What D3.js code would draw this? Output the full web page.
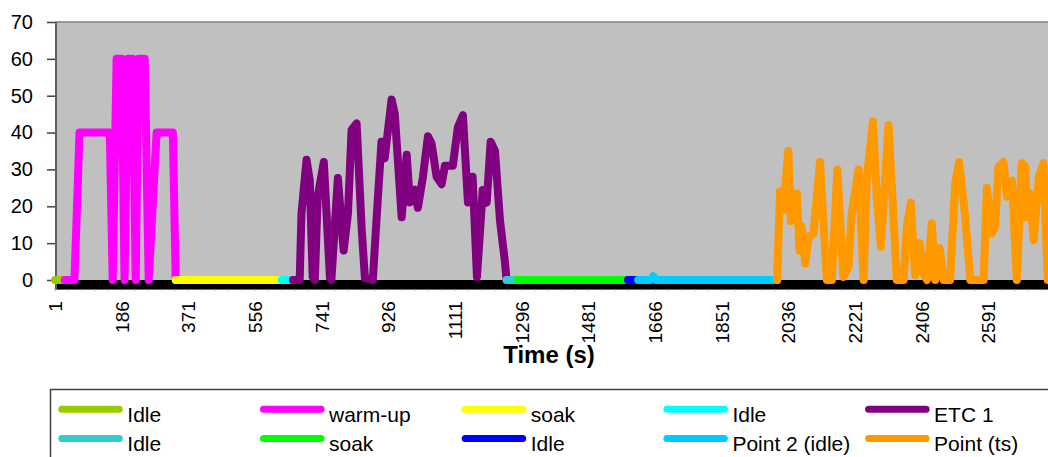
<!DOCTYPE html>
<html>
<head>
<meta charset="utf-8">
<script src="https://cdn.jsdelivr.net/npm/d3@7/dist/d3.min.js"></script>
<style>
  body { margin: 0; background: #fff; }
  svg { display: block; font-family: "Liberation Sans", Arial, sans-serif; }
</style>
</head>
<body>
<script>
// Speed trace, one [time (s), speed] pair per vertex
const idle1 = [[1, 0], [28, 0]];
const warmUp = [[28, 0], [55, 0], [69, 40], [153, 40], [161, 0], [172, 60], [186, 60], [194, 0],
    [203, 60], [216, 60], [225, 0], [233, 60], [250, 60], [261, 0], [283, 40], [328, 40], [336, 0]];
const soak1 = [[336, 0], [630, 0]];
const idle2 = [[630, 0], [661, 0]];
const etc1 = [[661, 0], [680, 0], [685, 18], [699, 32.6], [708, 27], [716, 0.8], [722, 0], [730, 22.6],
    [747, 32], [764, 0.5], [768, 0], [786, 27.7], [802, 8], [814, 18], [824, 40.7], [838, 42.5],
    [852, 14], [861, 0.5], [883, 0], [893, 16], [907, 37.5], [916, 33], [935, 49], [944, 45],
    [963, 17], [977, 34], [986, 21], [1000, 24.5], [1008, 19.6], [1022, 28], [1036, 39], [1046, 37],
    [1060, 28], [1074, 26], [1083, 31], [1105, 31], [1119, 41.5], [1133, 44.7], [1147, 21],
    [1160, 28], [1172, 0.8], [1188, 24.4], [1199, 21], [1210, 37.5], [1222, 35], [1236, 16],
    [1250, 4.6], [1254, 0]];
const idle3 = [[1254, 0], [1286, 0]];
const soak2 = [[1286, 0], [1591, 0]];
const idle4 = [[1591, 0], [1619, 0]];
const point2 = [[1619, 0], [1655, 0], [1661, 1], [1667, 0], [2003, 0]];
const pointTs = [[2005, 0], [2013, 24], [2022, 19], [2036, 35], [2043, 16], [2050, 23.5], [2060, 23.5],
    [2067, 8], [2073, 14.5], [2083, 4.5], [2092, 11.7], [2106, 12.6], [2124, 32], [2143, 0],
    [2157, 0], [2172, 30], [2189, 0.8], [2203, 3.6], [2212, 18], [2231, 30], [2245, 0], [2254, 28],
    [2271, 43], [2282, 21.7], [2293, 9], [2314, 42], [2328, 17], [2337, 0], [2356, 0], [2365, 14.5],
    [2376, 21], [2388, 1.3], [2400, 10], [2411, 1.8], [2421, 0], [2434, 15.4], [2444, 0], [2456, 8.6],
    [2467, 0], [2485, 0], [2499, 26], [2510, 32], [2527, 17], [2541, 0], [2578, 0], [2587, 25],
    [2601, 12.6], [2610, 14.5], [2619, 30.7], [2633, 32], [2643, 22.6], [2657, 27], [2670, 0],
    [2684, 31.7], [2694, 30.7], [2698, 17], [2706, 23.5], [2717, 10.8], [2731, 28], [2744, 31.7],
    [2756, 0], [2770, 0]];

const seriesNames = ["Idle", "warm-up", "soak", "Idle", "ETC 1", "Idle", "soak", "Idle", "Point 2 (idle)", "Point (ts)"];
const seriesData = [idle1, warmUp, soak1, idle2, etc1, idle3, soak2, idle4, point2, pointTs];
const seriesColors = ["#99cc00", "#ff00ff", "#ffff00", "#00ffff", "#800080",
    "#33cccc", "#00ff00", "#0000ff", "#00ccff", "#ff9900"];

const yTicks = d3.range(0, 71, 10);
const xTicks = d3.range(1, 2700, 185);

const width = 1048,
    height = 457;

const svg = d3.select("body").append("svg")
    .attr("width", width)
    .attr("height", height);

const x = d3.scaleLinear().domain([1, 2591]).range([55, 988.3]);
const y = d3.scaleLinear().domain([0, 70]).range([280, 22]);

const plotLeft = 56,
    plotRight = 1120,
    plotBottom = y(-2.5);

// plot area
svg.append("rect")
    .attr("x", plotLeft)
    .attr("y", y(70))
    .attr("width", plotRight - plotLeft)
    .attr("height", plotBottom - y(70))
    .attr("fill", "#c0c0c0")
    .attr("stroke", "#808080")
    .attr("stroke-width", 1.5);

// black band under zero
svg.append("rect")
    .attr("x", plotLeft)
    .attr("y", y(0))
    .attr("width", plotRight - plotLeft)
    .attr("height", plotBottom - y(0))
    .attr("fill", "#000");

// minor category ticks
svg.append("g")
    .selectAll("line")
    .data(d3.range(1, 2800, 37))
    .join("line")
    .attr("x1", d => x(d))
    .attr("x2", d => x(d))
    .attr("y1", plotBottom)
    .attr("y2", plotBottom + 2)
    .attr("stroke", "#b0b0b0")
    .attr("stroke-width", 1);

// y axis
const yAxis = svg.append("g")
    .attr("transform", `translate(${plotLeft},0)`)
    .call(d3.axisLeft(y).tickValues(yTicks).tickSize(9).tickPadding(14));
yAxis.select(".domain").remove();
yAxis.selectAll(".tick line").attr("stroke", "#404040").attr("stroke-width", 1.5);
yAxis.selectAll(".tick text")
    .attr("fill", "#000")
    .style("font-size", "20px")
    .style("font-family", "'Liberation Sans', Arial, sans-serif");

svg.append("line")
    .attr("x1", plotLeft).attr("x2", plotLeft)
    .attr("y1", y(70)).attr("y2", plotBottom)
    .attr("stroke", "#606060")
    .attr("stroke-width", 2);

// x axis labels (rotated)
const xAxis = svg.append("g")
    .attr("transform", `translate(0,${plotBottom})`)
    .call(d3.axisBottom(x).tickValues(xTicks).tickSize(0).tickFormat(d3.format("d")));
xAxis.select(".domain").remove();
xAxis.selectAll(".tick text")
    .attr("transform", "rotate(-90)")
    .attr("text-anchor", "end")
    .attr("x", -12)
    .attr("y", 0)
    .attr("dy", "0.35em")
    .attr("fill", "#000")
    .style("font-size", "19px")
    .style("font-family", "'Liberation Sans', Arial, sans-serif");

svg.append("text")
    .attr("x", 549)
    .attr("y", 363)
    .attr("text-anchor", "middle")
    .style("font-size", "24px")
    .style("font-weight", "bold")
    .text("Time (s)");

// series
const line = d3.line()
    .x(d => x(d[0]))
    .y(d => y(d[1]));

svg.append("g")
    .selectAll("path")
    .data(seriesData)
    .join("path")
    .attr("d", line)
    .attr("fill", "none")
    .attr("stroke", (d, i) => seriesColors[i])
    .attr("stroke-width", 8)
    .attr("stroke-linejoin", "round")
    .attr("stroke-linecap", "round");

// legend
const legend = svg.append("g");
legend.append("rect")
    .attr("x", 50.5)
    .attr("y", 389.5)
    .attr("width", 1100)
    .attr("height", 120)
    .attr("fill", "#fff")
    .attr("stroke", "#404040")
    .attr("stroke-width", 1.5);

const colStep = 201.7,
    rowY = [409.3, 438.5];

const item = legend.selectAll("g.item")
    .data(seriesNames)
    .join("g")
    .attr("class", "item")
    .attr("transform", (d, i) => `translate(${58.3 + (i % 5) * colStep},${rowY[Math.floor(i / 5)]})`);

item.append("line")
    .attr("x1", 3.5)
    .attr("x2", 61)
    .attr("stroke", (d, i) => seriesColors[i])
    .attr("stroke-width", 7)
    .attr("stroke-linecap", "round");

item.append("text")
    .attr("x", 69)
    .attr("y", 12.4)
    .style("font-size", "21px")
    .attr("fill", "#000")
    .text(d => d);
</script>
</body>
</html>
